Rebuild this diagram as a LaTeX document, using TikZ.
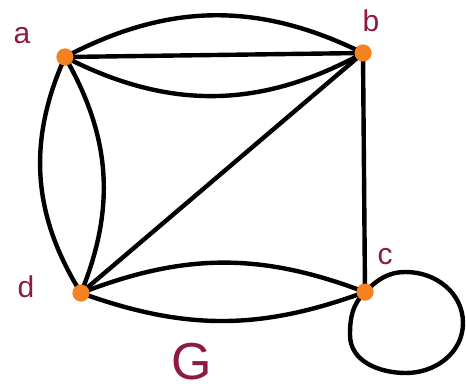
\documentclass[tikz,border=0pt]{standalone}
\usepackage{fontspec}
\setmainfont{Liberation Sans}
\definecolor{vtx}{HTML}{F58220}
\definecolor{lbl}{HTML}{8E1B3F}
\begin{document}
\begin{tikzpicture}[x=1pt,y=-1pt,
  vertex/.style={circle,fill=vtx,inner sep=0pt,minimum size=17pt},
  edgeline/.style={line width=4.4pt,line cap=round,black},
  vlabel/.style={text=lbl,font=\fontsize{30}{30}\selectfont,inner sep=0pt},
  glabel/.style={text=lbl,font=\fontsize{52}{52}\selectfont,inner sep=0pt,anchor=base}]
\useasboundingbox (0,0) rectangle (466,389);
\coordinate (p1) at (406,272);
\coordinate (p2) at (463,323);
\coordinate (p3) at (406,373);
\coordinate (p4) at (350,335);
\node[vertex] (a) at (65,57) {};
\node[vertex] (b) at (363,53) {};
\node[vertex] (c) at (365,292) {};
\node[vertex] (d) at (81,293) {};
\begin{scope}[edgeline]
\draw (a.center) -- (b.center);
\draw (a.center) to[bend left=27] (b.center);
\draw (a.center) to[bend right=28] (b.center);
\draw (a.center) to[bend right=28] (d.center);
\draw (a.center) to[bend left=26] (d.center);
\draw (b.center) -- (d.center);
\draw (b.center) -- (c.center);
\draw (d.center) to[bend left=21] (c.center);
\draw (d.center) to[bend right=20] (c.center);
\draw (c.center) to[out=45,in=180] (p1) to[out=0,in=90] (p2) to[out=-90,in=0] (p3) to[out=180,in=-90] (p4) to[out=90,in=-135] (c.center);
\end{scope}
\node[vertex] at (a) {};
\node[vertex] at (b) {};
\node[vertex] at (c) {};
\node[vertex] at (d) {};
\node[vlabel] (la) at (22,36) {a};
\node[vlabel] (lb) at (371,21) {b};
\node[vlabel] (lc) at (385,257) {c};
\node[vlabel] (ld) at (26,287) {d};
\node[glabel] (lg) at (192,379) {G};
\end{tikzpicture}
\end{document}
